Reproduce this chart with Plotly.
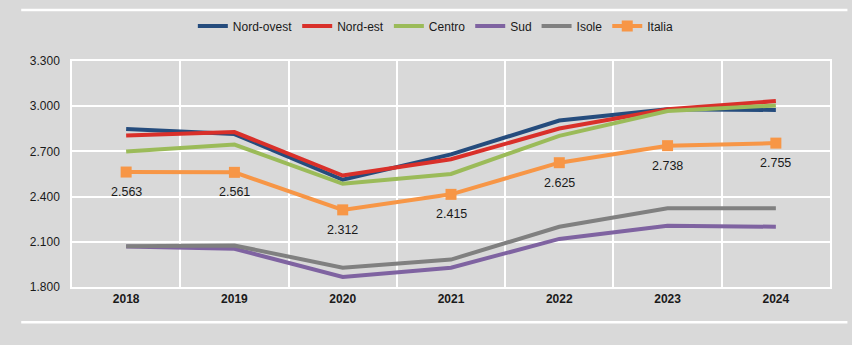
import plotly.graph_objects as go

# Years on the category axis
anni = ["2018", "2019", "2020", "2021", "2022", "2023", "2024"]

# Values per ripartizione geografica
nord_ovest = [2848, 2815, 2512, 2680, 2905, 2980, 2975]
nord_est = [2805, 2828, 2540, 2648, 2852, 2980, 3034]
centro = [2700, 2745, 2485, 2550, 2803, 2968, 3005]
sud = [2068, 2054, 1867, 1928, 2119, 2206, 2200]
isole = [2071, 2076, 1928, 1982, 2200, 2322, 2322]
italia = [2563, 2561, 2312, 2415, 2625, 2738, 2755]

FONT = "Liberation Sans, Arial, sans-serif"
BG = "#d9d9d9"
TXT = "#1a1a1a"

series = [
    ("Nord-ovest", nord_ovest, "#254c7d"),
    ("Nord-est", nord_est, "#d9302a"),
    ("Centro", centro, "#9bbb59"),
    ("Sud", sud, "#7f63a1"),
    ("Isole", isole, "#808080"),
]

fig = go.Figure()
for name, vals, col in series:
    fig.add_trace(go.Scatter(
        x=anni, y=vals, name=name, mode="lines",
        line=dict(color=col, width=4),
    ))

fig.add_trace(go.Scatter(
    x=anni, y=italia, name="Italia", mode="lines+markers",
    line=dict(color="#f79646", width=4),
    marker=dict(symbol="square", size=11, color="#f79646"),
))

# Value labels under the Italia markers (x given as category index)
for i, v in enumerate(italia):
    fig.add_annotation(
        x=i, y=v, xref="x", yref="y",
        text=f"{v:,}".replace(",", "."), showarrow=False,
        yshift=-20, font=dict(family=FONT, size=12.5, color=TXT),
    )

# Horizontal white rules framing the chart
for yy in (1.226, -0.156):
    fig.add_shape(type="line", xref="paper", yref="paper",
                  x0=-0.067, x1=1.023, y0=yy, y1=yy,
                  line=dict(color="white", width=2.5))

fig.update_layout(
    width=852, height=345,
    margin=dict(l=72, r=22, t=57, b=58),
    paper_bgcolor=BG, plot_bgcolor=BG,
    separators=",.",
    font=dict(family=FONT, color=TXT, size=12),
    showlegend=True,
    legend=dict(
        orientation="h", x=0.48, xanchor="center", y=1.155, yanchor="middle",
        font=dict(family=FONT, size=12, color=TXT),
        bgcolor="rgba(0,0,0,0)", itemwidth=30, tracegroupgap=0,
    ),
    xaxis=dict(
        type="category", range=[-0.5, 6.5], tickson="boundaries",
        showgrid=True, gridcolor="white", gridwidth=1.5,
        showline=True, linecolor="white", linewidth=1.5, mirror=True,
        ticks="outside", ticklen=14, tickcolor="rgba(0,0,0,0)",
        tickfont=dict(family=FONT, size=12, color=TXT, weight="bold"),
        zeroline=False, fixedrange=True,
    ),
    yaxis=dict(
        range=[1800, 3300], tickvals=[1800, 2100, 2400, 2700, 3000, 3300],
        tickformat=",.0f",
        showgrid=True, gridcolor="white", gridwidth=1.5,
        showline=True, linecolor="white", linewidth=1.5, mirror=True,
        ticks="outside", ticklen=8, tickcolor="rgba(0,0,0,0)",
        tickfont=dict(family=FONT, size=12, color=TXT),
        zeroline=False, fixedrange=True,
    ),
)

fig.write_html("out.html")
